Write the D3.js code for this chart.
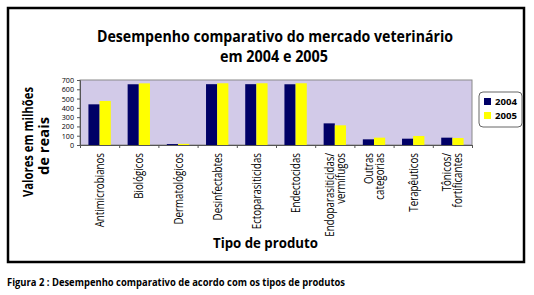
<!DOCTYPE html>
<html><head><meta charset="utf-8">
<script src="https://cdn.jsdelivr.net/npm/d3@7"></script>
<style>body{margin:0;background:#fff}svg{display:block}</style>
</head><body>
<script>
const categories = [
  ["Antimicrobianos"], ["Biológicos"], ["Dermatológicos"], ["Desinfectabtes"],
  ["Ectoparasiticidas"], ["Endectocidas"], ["Endoparasiticidas/","vermífugos"],
  ["Outras","categorias"], ["Terapêuticos"], ["Tônicos/","fortificantes"]
];
const series = ["2004", "2005"];
const values2004 = [438, 654, 10, 655, 655, 654, 233, 61, 68, 79];
const values2005 = [474, 664, 12, 665, 665, 665, 212, 79, 97, 75];
const yTicks = [0, 100, 200, 300, 400, 500, 600, 700];
const colors = ["#000066", "#ffff00"];

const W = 534, H = 295;
const svg = d3.select("body").append("svg").attr("width", W).attr("height", H);
const font = "'Open Sans', 'DejaVu Sans', sans-serif";

function fitText(sel, len) {
  sel.attr("textLength", len).attr("lengthAdjust", "spacingAndGlyphs");
  return sel;
}

// outer frame
svg.append("rect").attr("x", 8).attr("y", 8).attr("width", 516).attr("height", 254)
  .attr("fill", "#fff").attr("stroke", "#000").attr("stroke-width", 2.5);

// title
fitText(svg.append("text").attr("x", 97).attr("y", 42)
  .attr("font-family", font).attr("font-weight", "bold").attr("font-size", 16)
  .text("Desempenho comparativo do mercado veterinário"), 356);
fitText(svg.append("text").attr("x", 220).attr("y", 62)
  .attr("font-family", font).attr("font-weight", "bold").attr("font-size", 16)
  .text("em 2004 e 2005"), 108);

const m = {l: 80, r: 472, t: 80, b: 145};
const x0 = d3.scaleBand().domain(d3.range(categories.length)).range([m.l, m.r]).paddingInner(0.43).paddingOuter(0.215);
const x1 = d3.scaleBand().domain(series).range([0, x0.bandwidth()]);
const y = d3.scaleLinear().domain([0, 700]).range([m.b, m.t]);

svg.append("rect").attr("x", m.l).attr("y", m.t).attr("width", m.r - m.l).attr("height", m.b - m.t)
  .attr("fill", "#d2cae8").attr("stroke", "#8a8a8a").attr("stroke-width", 1);

const data = [values2004, values2005];
categories.forEach((c, i) => {
  series.forEach((s, j) => {
    svg.append("rect")
      .attr("x", x0(i) + x1(s)).attr("width", x1.bandwidth())
      .attr("y", y(data[j][i])).attr("height", y(0) - y(data[j][i]))
      .attr("fill", colors[j]);
  });
});

// y axis
const yAxis = d3.axisLeft(y).tickValues(yTicks).tickSize(3).tickPadding(3);
const ga = svg.append("g").attr("transform", `translate(${m.l},0)`).call(yAxis);
ga.select(".domain").attr("stroke", "#555");
ga.selectAll(".tick line").attr("stroke", "#555");
ga.selectAll("text").attr("font-family", font).attr("font-size", 8).attr("fill", "#000")
  .attr("transform", "scale(0.9,1)").attr("x", -6 / 0.9);

// x axis
const xb = d3.scaleLinear().domain([0, categories.length]).range([m.l, m.r]);
const gx = svg.append("g").attr("transform", `translate(0,${m.b})`)
  .call(d3.axisBottom(xb).tickValues(d3.range(categories.length + 1)).tickSize(3).tickFormat(""));
gx.select(".domain").attr("stroke", "#555");
gx.selectAll(".tick line").attr("stroke", "#555");

categories.forEach((c, i) => {
  const cx = x0(i) + x0.bandwidth() / 2;
  const n = c.length;
  const t = svg.append("text")
    .attr("transform", `translate(${cx},153) rotate(-90) scale(0.78,1)`)
    .attr("text-anchor", "end").attr("font-family", font).attr("font-size", 12.5).attr("fill", "#000");
  c.forEach((line, k) => {
    t.append("tspan").attr("x", 0).attr("y", (k - (n - 1) / 2) * 11 + 4.5).text(line);
  });
});

// axis titles
const yt = svg.append("g").attr("transform", "translate(0,142) rotate(-90)");
fitText(yt.append("text").attr("x", 0).attr("y", 33).attr("text-anchor", "middle")
  .attr("font-family", font).attr("font-weight", "bold").attr("font-size", 15)
  .text("Valores em milhões"), 110);
fitText(yt.append("text").attr("x", -4).attr("y", 49).attr("text-anchor", "middle")
  .attr("font-family", font).attr("font-weight", "bold").attr("font-size", 15)
  .text("de reais"), 58);

fitText(svg.append("text").attr("x", 213).attr("y", 248)
  .attr("font-family", font).attr("font-weight", "bold").attr("font-size", 14).text("Tipo de produto"), 105);

// legend
const lg = svg.append("g");
lg.append("rect").attr("x", 479).attr("y", 92).attr("width", 43).attr("height", 35).attr("rx", 4)
  .attr("fill", "#fff").attr("stroke", "#666").attr("stroke-width", 1);
series.forEach((s, j) => {
  lg.append("rect").attr("x", 484).attr("y", 98 + j * 14).attr("width", 7).attr("height", 7).attr("fill", colors[j]);
  fitText(lg.append("text").attr("x", 495).attr("y", 105 + j * 14).attr("font-family", font)
    .attr("font-weight", "bold").attr("font-size", 9).text(s), 22);
});

// caption
fitText(svg.append("text").attr("x", 7).attr("y", 286).attr("font-family", font).attr("font-weight", "bold")
  .attr("font-size", 11).text("Figura 2 : Desempenho comparativo de acordo com os tipos de produtos"), 338);
</script>
</body></html>
